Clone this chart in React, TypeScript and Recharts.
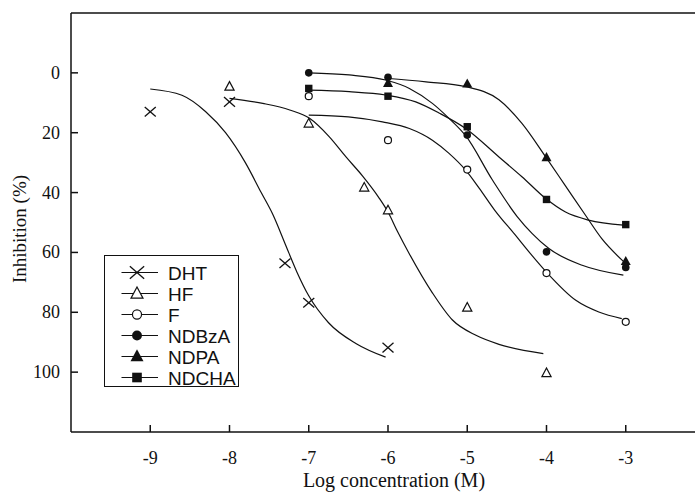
import React from "react";
import {
  ComposedChart,
  Legend,
  Line,
  ReferenceLine,
  Scatter,
  XAxis,
  YAxis,
} from "recharts";

// Log concentration (M) vs inhibition (%), six compounds.

const X_TICKS = [-9, -8, -7, -6, -5, -4, -3];
const Y_TICKS = [0, 20, 40, 60, 80, 100];

const DHT_PTS = [
  { x: -9, y: 13 },
  { x: -8, y: 9.7 },
  { x: -7.3, y: 63.6 },
  { x: -7, y: 76.8 },
  { x: -6, y: 91.8 },
];
const HF_PTS = [
  { x: -8, y: 4.6 },
  { x: -7, y: 16.9 },
  { x: -6.3, y: 38.3 },
  { x: -6, y: 45.9 },
  { x: -5, y: 78.4 },
  { x: -4, y: 100.3 },
];
const F_PTS = [
  { x: -7, y: 7.8 },
  { x: -6, y: 22.5 },
  { x: -5, y: 32.3 },
  { x: -4, y: 66.9 },
  { x: -3, y: 83.2 },
];
const NDBZA_PTS = [
  { x: -7, y: 0 },
  { x: -6, y: 1.5 },
  { x: -5, y: 20.8 },
  { x: -4, y: 59.8 },
  { x: -3, y: 65 },
];
const NDPA_PTS = [
  { x: -6, y: 3.5 },
  { x: -5, y: 3.7 },
  { x: -4, y: 28.3 },
  { x: -3, y: 63 },
];
const NDCHA_PTS = [
  { x: -7, y: 5.2 },
  { x: -6, y: 7.8 },
  { x: -5, y: 18 },
  { x: -4, y: 42.3 },
  { x: -3, y: 50.7 },
];

// fitted curves
const DHT_FIT = [
  { x: -9, y: 5.4 },
  { x: -8.6, y: 7.5 },
  { x: -8.3, y: 13 },
  { x: -8.05, y: 20 },
  { x: -7.8, y: 30 },
  { x: -7.6, y: 40 },
  { x: -7.45, y: 47.5 },
  { x: -7.3, y: 57 },
  { x: -7.15, y: 66.5 },
  { x: -7, y: 74.5 },
  { x: -6.75, y: 83.5 },
  { x: -6.4, y: 90.5 },
  { x: -6.03, y: 95 },
];
const HF_FIT = [
  { x: -8, y: 8.5 },
  { x: -7.58, y: 10.2 },
  { x: -7.24, y: 12.4 },
  { x: -6.99, y: 15.2 },
  { x: -6.74, y: 21.4 },
  { x: -6.53, y: 28.1 },
  { x: -6.32, y: 34.5 },
  { x: -6.12, y: 41.5 },
  { x: -6, y: 46.5 },
  { x: -5.88, y: 53 },
  { x: -5.73, y: 60.5 },
  { x: -5.44, y: 73.5 },
  { x: -5.19, y: 82.5 },
  { x: -4.89, y: 87.7 },
  { x: -4.6, y: 90.7 },
  { x: -4.04, y: 93.8 },
];
const F_FIT = [
  { x: -7, y: 14.1 },
  { x: -6.5, y: 14.7 },
  { x: -6.07, y: 16.4 },
  { x: -5.73, y: 18.6 },
  { x: -5.44, y: 22.5 },
  { x: -5.23, y: 26.9 },
  { x: -5.02, y: 32.5 },
  { x: -4.85, y: 38.5 },
  { x: -4.65, y: 46 },
  { x: -4.4, y: 54 },
  { x: -4.2, y: 60.5 },
  { x: -3.99, y: 66.9 },
  { x: -3.63, y: 76 },
  { x: -3.34, y: 79.9 },
  { x: -3.05, y: 82.1 },
];
const NDBZA_FIT = [
  { x: -7, y: 0 },
  { x: -6.49, y: 0.7 },
  { x: -6.03, y: 2.4 },
  { x: -5.73, y: 5.2 },
  { x: -5.44, y: 10.2 },
  { x: -5.23, y: 15.2 },
  { x: -5.02, y: 21 },
  { x: -4.68, y: 35.9 },
  { x: -4.37, y: 48 },
  { x: -4.18, y: 53.7 },
  { x: -3.97, y: 58.7 },
  { x: -3.55, y: 64.3 },
  { x: -3.03, y: 67.6 },
];
const NDPA_FIT = [
  { x: -6.03, y: 1.8 },
  { x: -5.52, y: 3 },
  { x: -5.02, y: 4.6 },
  { x: -4.6, y: 9 },
  { x: -4.31, y: 16.9 },
  { x: -4.01, y: 28.1 },
  { x: -3.78, y: 37 },
  { x: -3.51, y: 47.5 },
  { x: -3.3, y: 55.5 },
  { x: -3.03, y: 63 },
];
const NDCHA_FIT = [
  { x: -7, y: 5.8 },
  { x: -6.49, y: 6.3 },
  { x: -6.03, y: 7.4 },
  { x: -5.65, y: 9.7 },
  { x: -5.35, y: 13.5 },
  { x: -5.02, y: 18.6 },
  { x: -4.6, y: 28.1 },
  { x: -4.31, y: 34.7 },
  { x: -4.01, y: 42 },
  { x: -3.76, y: 46.5 },
  { x: -3.47, y: 49.2 },
  { x: -3.03, y: 50.9 },
];

type Kind = "cross" | "triOpen" | "circOpen" | "circ" | "tri" | "square";

const SERIES: { name: string; kind: Kind; pts: typeof DHT_PTS; fit: typeof DHT_FIT }[] = [
  { name: "DHT", kind: "cross", pts: DHT_PTS, fit: DHT_FIT },
  { name: "HF", kind: "triOpen", pts: HF_PTS, fit: HF_FIT },
  { name: "F", kind: "circOpen", pts: F_PTS, fit: F_FIT },
  { name: "NDBzA", kind: "circ", pts: NDBZA_PTS, fit: NDBZA_FIT },
  { name: "NDPA", kind: "tri", pts: NDPA_PTS, fit: NDPA_FIT },
  { name: "NDCHA", kind: "square", pts: NDCHA_PTS, fit: NDCHA_FIT },
];

const SERIF = '"Liberation Serif", "Times New Roman", Times, serif';
const SANS = '"Liberation Sans", Arial, Helvetica, sans-serif';
const INK = "#111";

function Marker({ kind, cx, cy, s = 1 }: { kind: Kind; cx: number; cy: number; s?: number }) {
  if (cx == null || cy == null) return null;
  switch (kind) {
    case "cross":
      return (
        <g stroke={INK} strokeWidth={1.3}>
          <line x1={cx - 5.5 * s} y1={cy - 4.8 * s} x2={cx + 5.5 * s} y2={cy + 4.8 * s} />
          <line x1={cx - 5.5 * s} y1={cy + 4.8 * s} x2={cx + 5.5 * s} y2={cy - 4.8 * s} />
        </g>
      );
    case "triOpen":
      return (
        <polygon
          points={`${cx},${cy - 5 * s} ${cx + 4.6 * s},${cy + 3.6 * s} ${cx - 4.6 * s},${cy + 3.6 * s}`}
          fill="#fff"
          stroke={INK}
          strokeWidth={1.2}
        />
      );
    case "circOpen":
      return <circle cx={cx} cy={cy} r={3.5 * s} fill="#fff" stroke={INK} strokeWidth={1.2} />;
    case "circ":
      return <circle cx={cx} cy={cy} r={3.8 * s} fill={INK} />;
    case "tri":
      return (
        <polygon
          points={`${cx},${cy - 5.5 * s} ${cx + 5 * s},${cy + 3.6 * s} ${cx - 5 * s},${cy + 3.6 * s}`}
          fill={INK}
        />
      );
    case "square":
      return <rect x={cx - 3.7 * s} y={cy - 3.7 * s} width={7.4 * s} height={7.4 * s} fill={INK} />;
  }
  return null;
}

// serif tick labels (the axis default drops the font family)
function XTick({ x, y, payload }: any) {
  return (
    <text x={x} y={y + 12} textAnchor="middle" fontFamily={SERIF} fontSize={18} fill={INK}>
      {payload.value}
    </text>
  );
}

function YTick({ x, y, payload }: any) {
  return (
    <text x={x} y={y + 6} textAnchor="end" fontFamily={SERIF} fontSize={18} fill={INK}>
      {payload.value}
    </text>
  );
}

function LegendBox() {
  return (
    <svg width={135} height={132} style={{ display: "block" }}>
      <rect x={0.5} y={0.5} width={134} height={131} fill="#fff" stroke={INK} strokeWidth={1} />
      {SERIES.map((s, i) => {
        const cy = 17.5 + i * 21;
        return (
          <g key={s.name}>
            <line x1={17.5} y1={cy} x2={54} y2={cy} stroke={INK} strokeWidth={1.2} />
            <Marker kind={s.kind} cx={33} cy={cy} s={1.3} />
            <text x={64} y={cy + 7} fontFamily={SANS} fontSize={19} fill={INK}>
              {s.name}
            </text>
          </g>
        );
      })}
    </svg>
  );
}

export default function App() {
  return (
    <div
      style={{
        position: "absolute",
        left: 0,
        top: 0,
        width: 695,
        height: 498,
        overflow: "hidden",
        background: "#fff",
      }}
    >
      <ComposedChart width={720} height={498} margin={{ top: 13, right: 15, left: 0, bottom: 0 }}>
        <XAxis
          type="number"
          dataKey="x"
          domain={[-10, -2]}
          ticks={X_TICKS}
          allowDataOverflow
          height={66}
          stroke={INK}
          strokeWidth={1.5}
          tickSize={-7}
          tickMargin={27}
          tick={<XTick />}
          label={() => (
            <text x={394} y={487} textAnchor="middle" fontFamily={SERIF} fontSize={20} fill={INK}>
              Log concentration (M)
            </text>
          )}
        />
        <YAxis
          type="number"
          dataKey="y"
          domain={[-20, 120]}
          reversed
          ticks={Y_TICKS}
          allowDataOverflow
          width={71}
          stroke={INK}
          strokeWidth={1.5}
          tickSize={-7}
          tickMargin={18}
          tick={<YTick />}
          label={() => (
            <text
              x={26}
              y={229}
              transform="rotate(-90 26 229)"
              textAnchor="middle"
              fontFamily={SERIF}
              fontSize={19}
              fill={INK}
            >
              Inhibition (%)
            </text>
          )}
        />
        <ReferenceLine y={-20} stroke={INK} strokeWidth={1.5} />
        {SERIES.map((s) => (
          <Line
            key={`fit-${s.name}`}
            data={s.fit}
            dataKey="y"
            type="monotone"
            stroke={INK}
            strokeWidth={1.2}
            dot={false}
            activeDot={false}
            isAnimationActive={false}
            legendType="none"
          />
        ))}
        {SERIES.map((s) => (
          <Scatter
            key={`pts-${s.name}`}
            name={s.name}
            data={s.pts}
            dataKey="y"
            isAnimationActive={false}
            shape={(p: any) => <Marker kind={s.kind} cx={p.cx} cy={p.cy} />}
          />
        ))}
        <Legend
          layout="vertical"
          align="center"
          verticalAlign="middle"
          content={() => <LegendBox />}
          wrapperStyle={{ position: "absolute", left: 104, top: 255, width: 135, height: 132 }}
        />
      </ComposedChart>
    </div>
  );
}
